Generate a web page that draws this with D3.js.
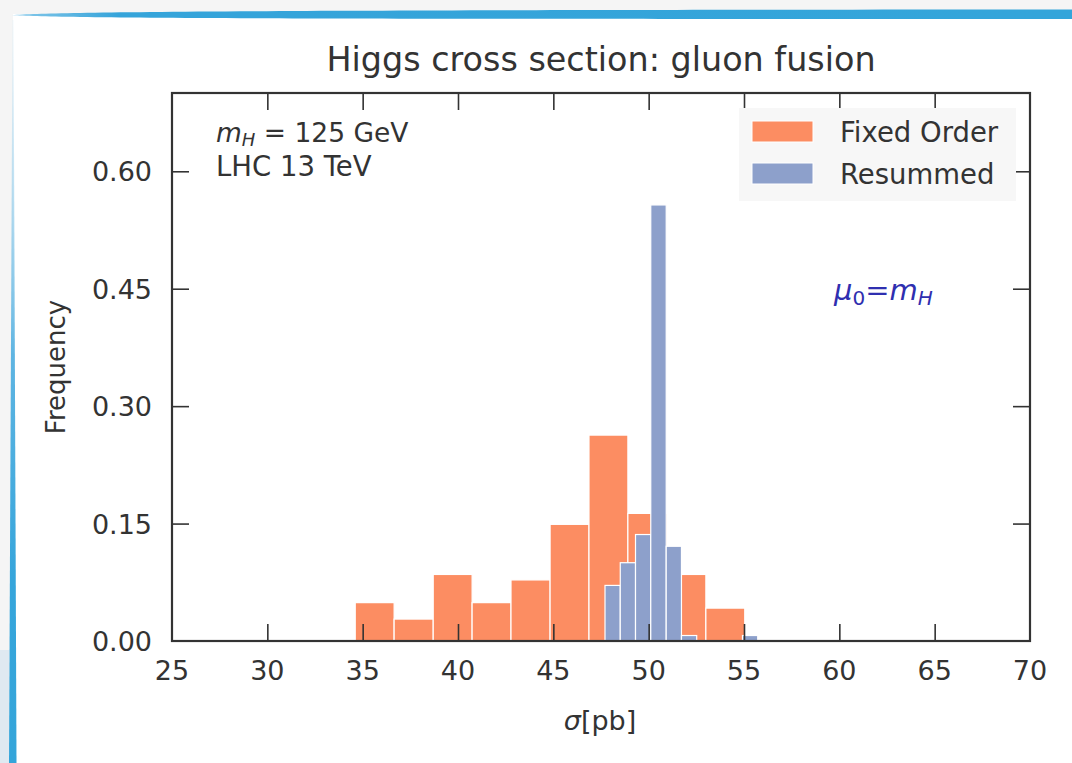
<!DOCTYPE html>
<html>
<head>
<meta charset="utf-8">
<script src="https://cdn.jsdelivr.net/npm/d3@7"></script>
<style>
  html, body { margin: 0; padding: 0; background: #f5f5f5; }
  svg { display: block; }
  text { font-family: "DejaVu Sans", "Liberation Sans", sans-serif; fill: #333; }
  .math { font-style: italic; }
</style>
</head>
<body>
<script>
// Histogram bin edges (sigma in pb) and per-bin frequencies
const fixedOrderEdges = [34.61, 36.65, 38.70, 40.74, 42.78, 44.83, 46.87, 48.91, 50.96, 53.00, 55.04];
const fixedOrderFreq  = [0.049, 0.028, 0.085, 0.049, 0.078, 0.149, 0.263, 0.163, 0.085, 0.042];

const resummedEdges = [47.71, 48.51, 49.31, 50.11, 50.92, 51.72, 52.52, 53.32, 54.12, 54.92, 55.72];
const resummedFreq  = [0.071, 0.100, 0.136, 0.557, 0.121, 0.007, 0, 0, 0, 0.007];

const xTicks = [25, 30, 35, 40, 45, 50, 55, 60, 65, 70];
const yTicks = [0.00, 0.15, 0.30, 0.45, 0.60];

const seriesNames = ["Fixed Order", "Resummed"];
const seriesColors = ["#fc8d62", "#8da0cb"];

const W = 1072, H = 763;
const plot = { left: 172, top: 93, right: 1030, bottom: 641 };

const svg = d3.select("body").append("svg").attr("width", W).attr("height", H);

// slide frame: white panel with blue accent strokes
svg.append("rect").attr("x", 13).attr("y", 14).attr("width", W - 13).attr("height", H - 14).attr("fill", "#ffffff");
svg.append("rect").attr("x", 0).attr("y", 650).attr("width", 9).attr("height", H - 650).attr("fill", "#dfe9f1");

const defs = svg.append("defs");
const gTop = defs.append("linearGradient").attr("id", "topStroke").attr("x1", 0).attr("x2", 1);
gTop.append("stop").attr("offset", "0").attr("stop-color", "#3aa6dc").attr("stop-opacity", 0.6);
gTop.append("stop").attr("offset", "0.1").attr("stop-color", "#35a4da");
gTop.append("stop").attr("offset", "1").attr("stop-color", "#34a5da");
svg.append("path")
  .attr("d", `M12,15 C60,12 200,10 ${W},9.5 L${W},19 C200,19 60,18 12,15 Z`)
  .attr("fill", "url(#topStroke)");

const gLeft = defs.append("linearGradient").attr("id", "leftStroke").attr("x1", 0).attr("x2", 0).attr("y1", 0).attr("y2", 1);
gLeft.append("stop").attr("offset", "0").attr("stop-color", "#bfe0f2").attr("stop-opacity", 0.2);
gLeft.append("stop").attr("offset", "0.45").attr("stop-color", "#5fb5e2");
gLeft.append("stop").attr("offset", "0.75").attr("stop-color", "#36a5db");
gLeft.append("stop").attr("offset", "1").attr("stop-color", "#34a5da");
svg.append("path")
  .attr("d", `M12.5,20 L13.5,20 L16.5,${H} L9,${H} Z`)
  .attr("fill", "url(#leftStroke)");

const x = d3.scaleLinear().domain([25, 70]).range([plot.left, plot.right]);
const y = d3.scaleLinear().domain([0, 0.70]).range([plot.bottom, plot.top]);

function bars(edges, freq, color) {
  const bins = freq.map((f, i) => ({ x0: edges[i], x1: edges[i + 1], f })).filter(d => d.f > 0);
  svg.append("g").selectAll("rect").data(bins).join("rect")
    .attr("x", d => x(d.x0))
    .attr("width", d => x(d.x1) - x(d.x0))
    .attr("y", d => y(d.f))
    .attr("height", d => y(0) - y(d.f))
    .attr("fill", color)
    .attr("stroke", "#ffffff")
    .attr("stroke-width", 1.2);
}
bars(fixedOrderEdges, fixedOrderFreq, seriesColors[0]);
bars(resummedEdges, resummedFreq, seriesColors[1]);

// axes with inward ticks on all four sides
const tickLen = 17;
const innerX = xTicks.filter(t => t > 25 && t < 70);
const innerY = yTicks.filter(t => t > 0);
const fmt = d3.format(".2f");

const axB = svg.append("g").attr("transform", `translate(0,${plot.bottom})`)
  .call(d3.axisBottom(x).tickValues(innerX).tickSize(-tickLen).tickFormat(""));
const axT = svg.append("g").attr("transform", `translate(0,${plot.top})`)
  .call(d3.axisTop(x).tickValues(innerX).tickSize(-tickLen).tickFormat(""));
const axL = svg.append("g").attr("transform", `translate(${plot.left},0)`)
  .call(d3.axisLeft(y).tickValues(innerY).tickSize(-tickLen).tickFormat(""));
const axR = svg.append("g").attr("transform", `translate(${plot.right},0)`)
  .call(d3.axisRight(y).tickValues(innerY).tickSize(-tickLen).tickFormat(""));
[axB, axT, axL, axR].forEach(a => {
  a.select(".domain").remove();
  a.selectAll(".tick line").attr("stroke", "#333").attr("stroke-width", 1.6);
});
svg.append("rect")
  .attr("x", plot.left).attr("y", plot.top)
  .attr("width", plot.right - plot.left).attr("height", plot.bottom - plot.top)
  .attr("fill", "none").attr("stroke", "#333").attr("stroke-width", 2.2);

// tick labels
svg.append("g").selectAll("text").data(xTicks).join("text")
  .attr("x", d => x(d)).attr("y", 680)
  .attr("text-anchor", "middle").attr("font-size", 27)
  .text(d => d);
svg.append("g").selectAll("text").data(yTicks).join("text")
  .attr("x", 152).attr("y", d => y(d) + 10)
  .attr("text-anchor", "end").attr("font-size", 27)
  .text(d => fmt(d));

// title and axis labels
svg.append("text").attr("x", 601).attr("y", 71).attr("text-anchor", "middle")
  .attr("font-size", 33.4).text("Higgs cross section: gluon fusion");

svg.append("text").attr("transform", "translate(65,367) rotate(-90)")
  .attr("text-anchor", "middle").attr("font-size", 26).text("Frequency");

const xl = svg.append("text").attr("x", 600).attr("y", 730).attr("text-anchor", "middle").attr("font-size", 27);
xl.append("tspan").attr("class", "math").text("σ");
xl.append("tspan").text("[pb]");

// annotations
const a1 = svg.append("text").attr("x", 216).attr("y", 142).attr("font-size", 26.5);
a1.append("tspan").attr("class", "math").text("m");
a1.append("tspan").attr("class", "math").attr("font-size", 18).attr("dy", 4).text("H");
a1.append("tspan").attr("dy", -4).text(" = 125 GeV");
svg.append("text").attr("x", 216).attr("y", 176).attr("font-size", 27.5).text("LHC 13 TeV");

const a2 = svg.append("text").attr("x", 834).attr("y", 300).attr("font-size", 29).style("fill", "#2f2fb0");
a2.append("tspan").attr("class", "math").style("fill", "#2f2fb0").text("μ");
a2.append("tspan").attr("font-size", 20).attr("dy", 5).style("fill", "#2f2fb0").text("0");
a2.append("tspan").attr("dy", -5).style("fill", "#2f2fb0").text("=");
a2.append("tspan").attr("class", "math").style("fill", "#2f2fb0").text("m");
a2.append("tspan").attr("class", "math").attr("font-size", 20).attr("dy", 5).style("fill", "#2f2fb0").text("H");

// legend
const lg = svg.append("g");
lg.append("rect").attr("x", 739).attr("y", 108).attr("width", 277).attr("height", 93).attr("fill", "#f7f7f7");
seriesNames.forEach((name, i) => {
  lg.append("rect").attr("x", 752).attr("y", 121 + i * 42).attr("width", 61).attr("height", 21)
    .attr("fill", seriesColors[i]).attr("stroke", "#ffffff").attr("stroke-width", 1);
  lg.append("text").attr("x", 840).attr("y", 142 + i * 42).attr("font-size", 27.5).text(name);
});
</script>
</body>
</html>
